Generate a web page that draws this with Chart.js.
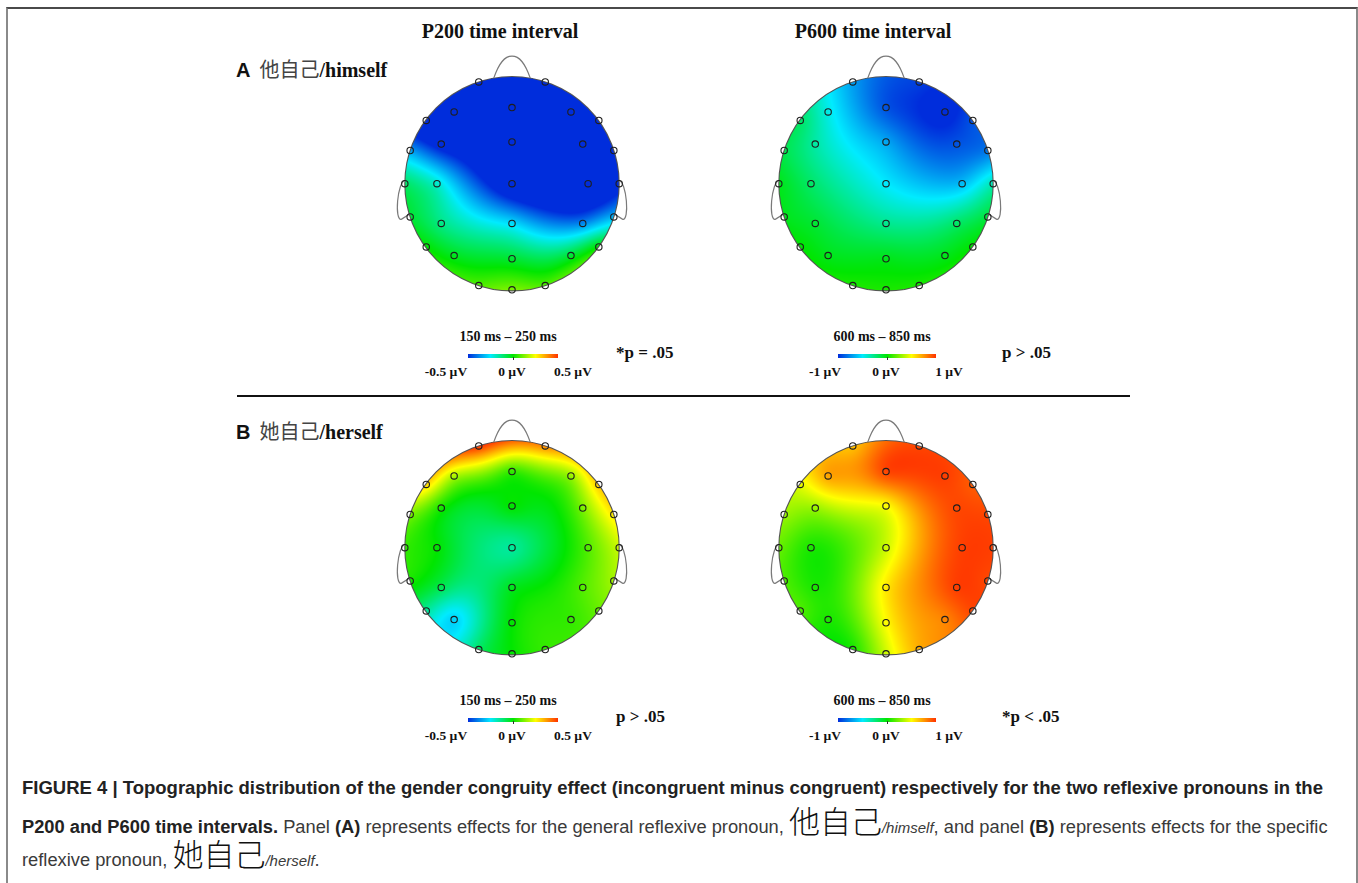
<!DOCTYPE html>
<html>
<head>
<meta charset="utf-8">
<script src="https://cdn.jsdelivr.net/npm/chart.js@4.4.1/dist/chart.umd.min.js"></script>
<style>
  html, body { margin: 0; padding: 0; background: #fff; }
  body { width: 1358px; height: 883px; position: relative; overflow: hidden; }
  .frame { position: absolute; left: 6px; top: 7px; width: 1348px; height: 900px;
           border-top: 2px solid #4a4a4a; border-left: 2px solid #8a8a8a; border-right: 2px solid #8a8a8a; }
  canvas.head { position: absolute; }
  .t { position: absolute; white-space: nowrap; line-height: 1; color: #111; }
  .serif { font-family: "Liberation Serif", "DejaVu Serif", serif; font-weight: bold; }
  .title { font-size: 20px; transform: translateX(-50%); }
  .lab { font-size: 20px; }
  .lab .let { font-family: "Liberation Sans", Arial, sans-serif; font-weight: bold; margin-right: 9px; }
  .lab .zh { font-family: "Noto Sans CJK SC", sans-serif; font-weight: normal; color: #444; }
  .lab .en { font-family: "Liberation Serif", serif; font-weight: bold; }
  .cbt { font-size: 14px; transform: translateX(-50%); }
  .cbl { font-size: 13.5px; transform: translateX(-50%); }
  .pv { font-size: 17px; }
  .bar { position: absolute; height: 4px;
         background: linear-gradient(to right, rgb(0,45,220), rgb(0,235,255) 25%, rgb(0,230,0) 50%, rgb(255,255,0) 75%, rgb(255,50,0)); }
  .tick { position: absolute; width: 1px; height: 3px; background: #333; }
  .sep { position: absolute; left: 237px; top: 395px; width: 893px; height: 2px; background: #111; }
  .cap { position: absolute; left: 22px; white-space: nowrap; font-family: "Liberation Sans", Arial, sans-serif;
         font-size: 18.3px; line-height: 20px; color: #3a3a3a; }
  .cap b { color: #222; }
  .cap .zh { font-family: "Noto Sans CJK SC", sans-serif; font-size: 31px; line-height: 0; color: #111; font-weight: 300; }
  .cap i { font-size: 15px; }
</style>
</head>
<body>
<div class="frame"></div>

<div class="t serif title" style="left:500px; top:21px;">P200 time interval</div>
<div class="t serif title" style="left:873px; top:21px;">P600 time interval</div>

<div class="t lab" style="left:236px; top:59px;"><span class="let">A</span><span class="zh">他自己</span><span class="en">/himself</span></div>
<div class="t lab" style="left:236px; top:421px;"><span class="let">B</span><span class="zh">她自己</span><span class="en">/herself</span></div>

<div class="sep"></div>

<canvas id="hA1" class="head" width="268" height="268" style="left:378px; top:39px;"></canvas>
<canvas id="hA2" class="head" width="268" height="268" style="left:752px; top:39px;"></canvas>
<canvas id="hB1" class="head" width="268" height="268" style="left:378px; top:403px;"></canvas>
<canvas id="hB2" class="head" width="268" height="268" style="left:752px; top:403px;"></canvas>

<div id="legends"></div>

<div class="cap" style="top:778px; font-size:18.5px;"><b>FIGURE 4 | Topographic distribution of the gender congruity effect (incongruent minus congruent) respectively for the two reflexive pronouns in the</b></div>
<div class="cap" style="top:817px;"><b>P200 and P600 time intervals.</b> Panel <b>(A)</b> represents effects for the general reflexive pronoun, <span class="zh">他自己</span><i>/himself</i>, and panel <b>(B)</b> represents effects for the specific</div>
<div class="cap" style="top:850px;">reflexive pronoun, <span class="zh">她自己</span><i>/herself</i>.</div>

<script>
// electrode montage (unit head circle, nose up)
const electrodes = ['Fp1','Fp2','F7','F3','Fz','F4','F8','FT7','FC3','FCz','FC4','FT8','T7','C3','Cz','C4','T8',
                    'TP7','CP3','CPz','CP4','TP8','P7','P3','Pz','P4','P8','O1','Oz','O2'];
const elecX = [-0.31,0.31,-0.80,-0.54,0,0.55,0.81,-0.95,-0.66,0,0.66,0.95,-1.0,-0.70,0,0.71,1.0,
               -0.95,-0.66,0,0.66,0.95,-0.80,-0.54,0,0.55,0.81,-0.31,0,0.31];
const elecY = [0.95,0.95,0.59,0.67,0.71,0.67,0.59,0.31,0.37,0.39,0.37,0.31,0,0,0,0,0,
               -0.31,-0.37,-0.37,-0.37,-0.31,-0.59,-0.67,-0.70,-0.67,-0.59,-0.95,-0.99,-0.95];

// difference amplitudes (µV)
const himselfP200 = [-0.65,-0.65,-0.65,-0.65,-0.7,-0.65,-0.65,-0.35,-0.55,-0.7,-0.7,-0.65,-0.1,-0.2,-0.62,-0.68,-0.55,
                     -0.05,-0.13,-0.27,-0.38,-0.32,0,-0.03,-0.05,-0.05,0,0.08,0.12,0.08];
const himselfP600 = [-0.7,-0.95,-0.2,-0.45,-0.9,-1.05,-0.9,-0.15,-0.32,-0.68,-0.9,-0.8,-0.05,-0.2,-0.5,-0.62,-0.35,
                     -0.05,-0.1,-0.28,-0.2,-0.12,0,-0.05,-0.05,-0.05,0,0.05,0.05,0.05];
const herselfP200 = [0.5,0.4,0.3,0.17,0.05,0.15,0.32,0.12,0.02,0,0.12,0.28,0.05,0,-0.15,0.08,0.2,
                     0.02,-0.08,-0.03,0.08,0.16,-0.15,-0.28,0,0.05,0.1,-0.1,0,0.05];
const herselfP600 = [0.65,0.95,0.45,0.72,0.95,0.97,0.9,0.3,0.3,0.5,0.95,0.95,0.2,0.05,0.4,0.97,0.97,
                     0.15,0.05,0.55,0.97,0.95,0.15,0.05,0.5,0.8,0.95,0.05,0.4,0.7];

const intervals = ['150 ms – 250 ms', '600 ms – 850 ms'];
const scaleMax = [0.5, 1];
const scaleTicks = [['-0.5 µV','0 µV','0.5 µV'], ['-1 µV','0 µV','1 µV']];
const pLabels = [['*p = .05', 'p > .05'], ['p > .05', '*p < .05']];

const cmapStops = [[0,[0,45,220]],[0.25,[0,235,255]],[0.5,[0,230,0]],[0.75,[255,255,0]],[1,[255,50,0]]];

function cmap(t) {
  t = Math.max(0, Math.min(1, t));
  for (let i = 1; i < cmapStops.length; i++) {
    if (t <= cmapStops[i][0]) {
      const a = cmapStops[i-1], b = cmapStops[i];
      const f = (t - a[0]) / (b[0] - a[0]);
      return [0,1,2].map(k => a[1][k] + f * (b[1][k] - a[1][k]));
    }
  }
  return cmapStops[cmapStops.length-1][1];
}

// thin plate spline through the electrode values
function U(r) { return r > 1e-9 ? r * r * Math.log(r) : 0; }
function tpsFit(xs, ys, vs) {
  const n = xs.length, m = n + 3;
  const A = [], b = new Array(m).fill(0);
  for (let i = 0; i < m; i++) A.push(new Array(m).fill(0));
  for (let i = 0; i < n; i++) {
    for (let j = 0; j < n; j++) A[i][j] = U(Math.hypot(xs[i]-xs[j], ys[i]-ys[j]));
    A[i][n] = 1; A[i][n+1] = xs[i]; A[i][n+2] = ys[i];
    A[n][i] = 1; A[n+1][i] = xs[i]; A[n+2][i] = ys[i];
    b[i] = vs[i];
  }
  for (let c = 0; c < m; c++) {
    let p = c;
    for (let r = c+1; r < m; r++) if (Math.abs(A[r][c]) > Math.abs(A[p][c])) p = r;
    [A[c], A[p]] = [A[p], A[c]]; [b[c], b[p]] = [b[p], b[c]];
    for (let r = c+1; r < m; r++) {
      const f = A[r][c] / A[c][c];
      for (let k = c; k < m; k++) A[r][k] -= f * A[c][k];
      b[r] -= f * b[c];
    }
  }
  const w = new Array(m).fill(0);
  for (let r = m-1; r >= 0; r--) {
    let s = b[r];
    for (let k = r+1; k < m; k++) s -= A[r][k] * w[k];
    w[r] = s / A[r][r];
  }
  return (x, y) => {
    let s = w[n] + w[n+1]*x + w[n+2]*y;
    for (let i = 0; i < n; i++) s += w[i] * U(Math.hypot(x-xs[i], y-ys[i]));
    return s;
  };
}

const topoPlugin = {
  id: 'topo',
  beforeDatasetsDraw(chart, args, opts) {
    const ctx = chart.ctx, sx = chart.scales.x, sy = chart.scales.y;
    const f = tpsFit(elecX, elecY, opts.values);
    const W = chart.width, H = chart.height;
    const off = document.createElement('canvas');
    off.width = W; off.height = H;
    const octx = off.getContext('2d');
    const img = octx.createImageData(W, H);
    for (let py = 0; py < H; py++) {
      for (let px = 0; px < W; px++) {
        const u = sx.getValueForPixel(px + 0.5), v = sy.getValueForPixel(py + 0.5);
        if (u*u + v*v > 1.0) continue;
        const c = cmap((f(u, v) / opts.max + 1) / 2);
        const k = (py * W + px) * 4;
        img.data[k] = c[0]; img.data[k+1] = c[1]; img.data[k+2] = c[2]; img.data[k+3] = 255;
      }
    }
    octx.putImageData(img, 0, 0);
    ctx.save();
    ctx.drawImage(off, 0, 0);
    const P = (x, y) => [sx.getPixelForValue(x), sy.getPixelForValue(y)];
    const [cx, cy] = P(0, 0);
    const rad = sx.getPixelForValue(1) - cx;
    ctx.strokeStyle = '#555'; ctx.lineWidth = 1.1;
    ctx.beginPath(); ctx.arc(cx, cy, rad, 0, Math.PI * 2); ctx.stroke();
    ctx.strokeStyle = '#7a7a7a'; ctx.lineWidth = 1.2;
    // nose
    ctx.beginPath();
    ctx.moveTo(...P(-0.17, 0.985));
    ctx.bezierCurveTo(...P(-0.12, 1.13), ...P(-0.07, 1.19), ...P(0, 1.19));
    ctx.bezierCurveTo(...P(0.07, 1.19), ...P(0.12, 1.13), ...P(0.17, 0.985));
    ctx.stroke();
    // ears
    [-1, 1].forEach(s => {
      ctx.beginPath();
      ctx.moveTo(...P(s * 0.995, 0.03));
      ctx.bezierCurveTo(...P(s * 1.07, 0.03), ...P(s * 1.1, -0.36), ...P(s * 1.03, -0.33));
      ctx.lineTo(...P(s * 0.95, -0.28));
      ctx.stroke();
    });
    ctx.restore();
  }
};

function drawHead(id, values, max) {
  new Chart(document.getElementById(id), {
    type: 'scatter',
    data: { datasets: [{
      data: elecX.map((x, i) => ({ x: x, y: elecY[i] })),
      pointRadius: 3.2, pointBorderWidth: 1.1,
      pointBorderColor: '#1e1e1e', pointBackgroundColor: 'rgba(0,0,0,0)'
    }] },
    options: {
      responsive: false, animation: false, events: [],
      layout: { padding: 0, autoPadding: false },
      plugins: { legend: { display: false }, tooltip: { enabled: false },
                 topo: { values: values, max: max } },
      scales: {
        x: { type: 'linear', min: -1.25, max: 1.25, display: false },
        y: { type: 'linear', min: -1.15, max: 1.35, display: false }
      }
    },
    plugins: [topoPlugin]
  });
}

drawHead('hA1', himselfP200, scaleMax[0]);
drawHead('hA2', himselfP600, scaleMax[1]);
drawHead('hB1', herselfP200, scaleMax[0]);
drawHead('hB2', herselfP600, scaleMax[1]);

// colour scale legends under each map
const legend = document.getElementById('legends');
const cols = [{ c: 512, bar: [468, 558], ticks: [446, 512, 573], p: 616 },
              { c: 886, bar: [838, 936], ticks: [825, 886, 949], p: 1002 }];
[0, 364].forEach((dy, row) => {
  cols.forEach((col, ci) => {
    let h = '';
    h += `<div class="t serif cbt" style="left:${col.c - 4}px; top:${330 + dy}px;">${intervals[ci]}</div>`;
    h += `<div class="bar" style="left:${col.bar[0]}px; top:${354 + dy}px; width:${col.bar[1] - col.bar[0]}px;"></div>`;
    h += `<div class="tick" style="left:${(col.bar[0] + col.bar[1]) / 2}px; top:${357 + dy}px;"></div>`;
    scaleTicks[ci].forEach((s, k) => {
      h += `<div class="t serif cbl" style="left:${col.ticks[k]}px; top:${365 + dy}px;">${s}</div>`;
    });
    h += `<div class="t serif pv" style="left:${col.p}px; top:${344 + dy}px;">${pLabels[row][ci]}</div>`;
    legend.insertAdjacentHTML('beforeend', h);
  });
});
</script>
</body>
</html>
